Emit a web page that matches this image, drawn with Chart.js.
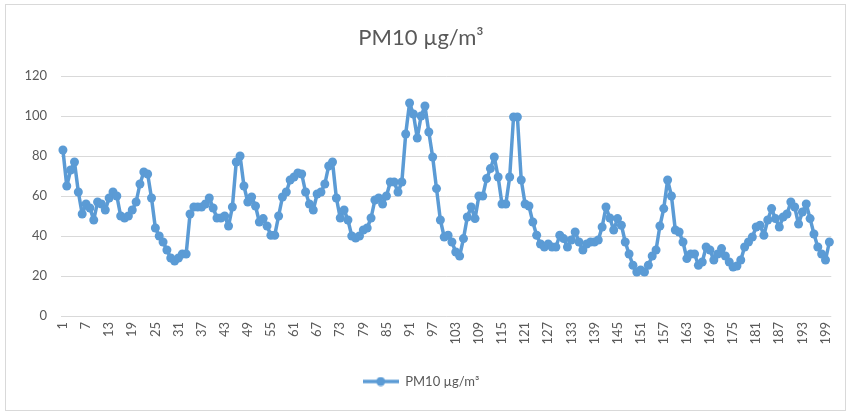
<!DOCTYPE html>
<html>
<head>
<meta charset="utf-8">
<script src="https://cdn.jsdelivr.net/npm/chart.js@4.4.1/dist/chart.umd.min.js"></script>
<style>
  html, body { margin: 0; padding: 0; background: #fff; }
</style>
</head>
<body>
<canvas id="chart" width="851" height="415"></canvas>
<script>
// PM10 readings, one per sample
const pm10 = [
  83, 65, 73, 77, 62, 51, 56, 54, 48, 57,
  56, 53, 59, 62, 60, 50, 49, 50, 53, 57,
  66, 72, 71, 59, 44, 40, 37, 33, 29, 27.5,
  29, 31, 31, 51, 54.5, 54.5, 54.5, 56, 59, 54,
  49, 49, 50, 45, 54.5, 77, 80, 65, 57, 59.5,
  55, 47, 48.7, 45, 40.4, 40.4, 50, 59.5, 62, 68,
  69.5, 71.5, 71, 62, 56, 53, 61, 62, 66, 75,
  77, 59, 49, 53, 48, 40, 39, 40, 43, 44,
  49, 58, 59, 56, 60, 67, 67, 62, 67, 91,
  106.5, 101, 89, 100, 105, 92, 79.5, 63.7, 48, 39.5,
  40.4, 37, 32, 30, 38.7, 49.5, 54.5, 48.7, 60, 60,
  68.7, 73.7, 79.5, 69.5, 56, 56, 69.5, 99.5, 99.5, 68,
  56, 55, 47, 40.4, 36, 34.5, 36, 34.5, 34.5, 40.4,
  38.7, 34.5, 38, 42, 37, 33, 36, 37, 37, 38,
  44.5, 54.5, 49, 43, 48.7, 45.4, 37, 31, 25.4, 22,
  23, 22, 25.4, 30, 33, 45, 53.7, 68, 60, 43,
  42, 37, 28.7, 31, 31, 25.4, 27, 34.5, 33, 28,
  31, 33.7, 30, 27, 24.5, 25, 28, 34.5, 37, 39.5,
  44.5, 45.4, 40.4, 48, 53.7, 48.7, 44.5, 49.5, 51, 57,
  54.5, 46, 52, 56, 48.7, 41, 34.5, 31, 28, 37
];
const samples = pm10.map((v, i) => String(i + 1));
const labelEvery = 6;          // x labels shown: 1, 7, 13 ... 199
const yMin = 0, yMax = 120, yStep = 20;
const chartTitle = 'PM10 µg/m³';
const seriesName = 'PM10 µg/m³';

const blue = '#5b9bd5';
const textGrey = '#595959';
const gridGrey = '#d9d9d9';
const font = 'Lato, "Open Sans", sans-serif';

// legend marker: short line with a dot, like the office style
const marker = document.createElement('canvas');
marker.width = 36;
marker.height = 10;
const mctx = marker.getContext('2d');
mctx.strokeStyle = blue;
mctx.lineWidth = 3.5;
mctx.beginPath(); mctx.moveTo(0, 5); mctx.lineTo(36, 5); mctx.stroke();
mctx.fillStyle = blue;
mctx.beginPath(); mctx.arc(18, 5, 4.5, 0, Math.PI * 2); mctx.fill();

const frame = {
  id: 'frame',
  beforeDraw(chart) {
    const c = chart.ctx;
    c.save();
    c.fillStyle = '#fff';
    c.fillRect(0, 0, chart.width, chart.height);
    c.strokeStyle = gridGrey;
    c.lineWidth = 1;
    c.strokeRect(5.5, 4.5, chart.width - 11, chart.height - 9);
    c.restore();
  }
};

new Chart(document.getElementById('chart').getContext('2d'), {
  type: 'line',
  data: {
    labels: samples,
    datasets: [{
      label: seriesName,
      data: pm10,
      borderColor: blue,
      backgroundColor: blue,
      borderWidth: 3.5,
      borderJoinStyle: 'round',
      borderCapStyle: 'round',
      pointRadius: 4.5,
      pointBorderWidth: 0,
      pointBackgroundColor: blue,
      tension: 0
    }]
  },
  options: {
    responsive: false,
    animation: false,
    devicePixelRatio: 1,
    layout: { padding: { top: 14, left: 6, right: 15, bottom: 17 } },
    plugins: {
      title: {
        display: true,
        text: chartTitle,
        color: textGrey,
        font: { family: font, size: 22, weight: 'normal' },
        padding: { top: 11, bottom: 24.6 }
      },
      legend: {
        position: 'bottom',
        labels: {
          usePointStyle: true,
          pointStyleWidth: 36,
          color: textGrey,
          font: { family: font, size: 13 },
          padding: 10,
          generateLabels: () => [{
            text: seriesName,
            pointStyle: marker,
            fillStyle: blue,
            strokeStyle: blue,
            lineWidth: 0,
            hidden: false,
            datasetIndex: 0,
            fontColor: textGrey
          }]
        }
      },
      tooltip: { enabled: false }
    },
    scales: {
      x: {
        offset: true,
        grid: { display: false, drawTicks: false },
        border: { display: false },
        ticks: {
          autoSkip: false,
          maxRotation: 90,
          minRotation: 90,
          padding: 6,
          color: textGrey,
          font: { family: font, size: 13 },
          callback: (v, i) => (i % labelEvery === 0 ? samples[i] : '')
        },
        afterFit: s => { s.height = 49; }
      },
      y: {
        min: yMin,
        max: yMax,
        grid: { color: gridGrey, drawTicks: false },
        border: { display: false },
        ticks: {
          stepSize: yStep,
          padding: 14,
          color: textGrey,
          font: { family: font, size: 13 }
        },
        afterFit: s => { s.width = 55; }
      }
    }
  },
  plugins: [frame]
});
</script>
</body>
</html>
